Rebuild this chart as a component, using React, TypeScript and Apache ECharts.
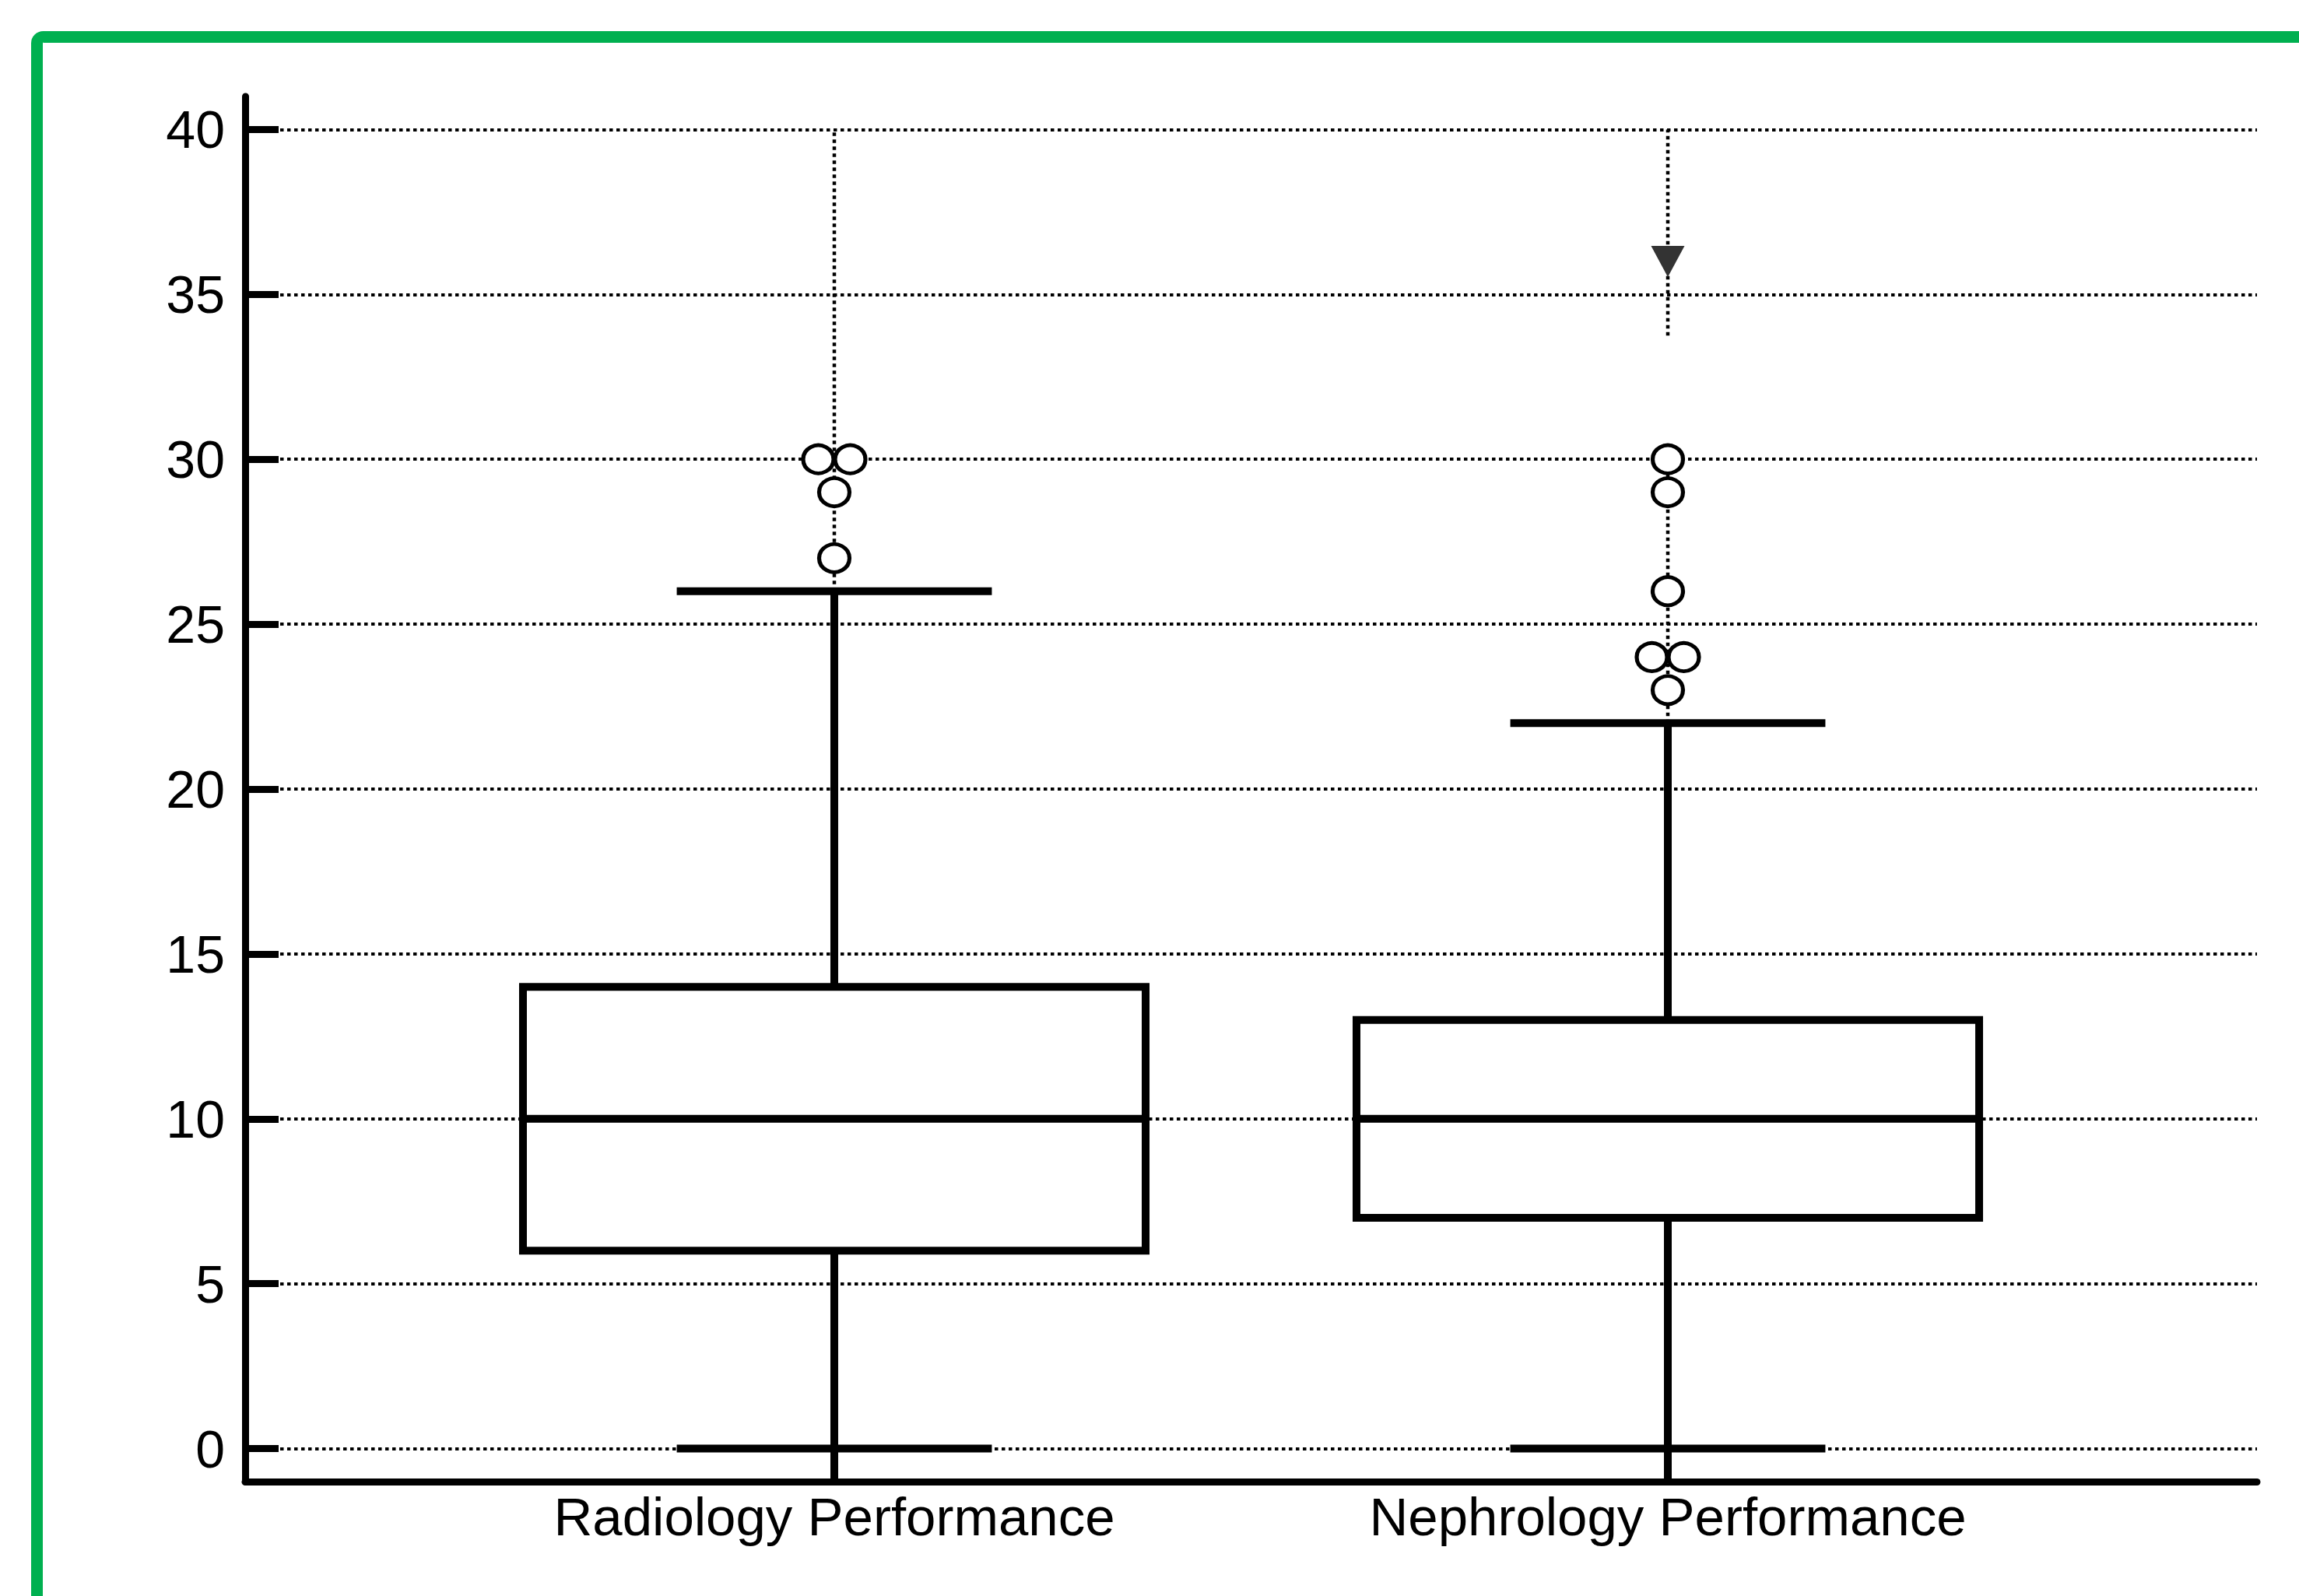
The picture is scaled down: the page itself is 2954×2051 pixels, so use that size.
import { useEffect, useRef } from "react";
import * as echarts from "echarts";

// ---- data ----
const categories = ["Radiology Performance", "Nephrology Performance"];
const whiskerLow = [0, 0];
const quartile1 = [6, 7];
const medians = [10, 10];
const quartile3 = [14, 13];
const whiskerHigh = [26, 22];
const radiologyOutliers = [30, 30, 29, 27];
const nephrologyOutliers = [30, 29, 26, 24, 24, 23];
const extremeMarkers = [null, 36]; // downward triangle marker
const radiologyDotted = [[26, 40]];
const nephrologyDotted = [[22, 30], [33.75, 40]];
const yTicks = [0, 5, 10, 15, 20, 25, 30, 35, 40];
const yMin = -1;
const yMax = 41;

// ---- layout constants ----
const X_MIN = 0.2932;
const X_MAX = 2.7068;
const BOX_HALF = 0.3735;
const CAP_HALF = 0.189;
const JITTER_PX = 41;

function buildOutlierItems(values: number[], x: number) {
  const counts: Record<string, number> = {};
  values.forEach((v) => (counts[v] = (counts[v] || 0) + 1));
  const seen: Record<string, number> = {};
  return values.map((v) => {
    const n = counts[v];
    const k = seen[v] || 0;
    seen[v] = k + 1;
    const dx = (k - (n - 1) / 2) * JITTER_PX;
    return { value: [x, v], symbolOffset: [dx, 0] };
  });
}

export default function App() {
  const ref = useRef<HTMLDivElement>(null);
  useEffect(() => {
    document.body.style.margin = "0";
    document.body.style.overflow = "hidden";
    if (!ref.current) return;
    const chart = echarts.init(ref.current, null, { renderer: "svg" });

    const boxData = categories.map((_, i) => [
      i + 1,
      whiskerLow[i],
      quartile1[i],
      medians[i],
      quartile3[i],
      whiskerHigh[i],
    ]);
    const dottedData: number[][] = [];
    radiologyDotted.forEach((s) => dottedData.push([1, s[0], s[1]]));
    nephrologyDotted.forEach((s) => dottedData.push([2, s[0], s[1]]));
    const outlierItems = [
      ...buildOutlierItems(radiologyOutliers, 1),
      ...buildOutlierItems(nephrologyOutliers, 2),
    ];
    const triangleData = extremeMarkers
      .map((v, i) => (v == null ? null : [i + 1, v]))
      .filter((d) => d != null);

    const black = "#000";
    const lw = 10;

    chart.setOption({
      animation: false,
      backgroundColor: "#fff",
      graphic: [
        {
          type: "rect",
          shape: { x: 47.5, y: 47.5, width: 3100, height: 2200, r: 8 },
          style: { fill: "none", stroke: "#00B050", lineWidth: 15 },
          z: 100,
        },
      ],
      grid: { left: 315, right: 54, top: 124, bottom: 147 },
      xAxis: {
        type: "value",
        min: X_MIN,
        max: X_MAX,
        axisLine: { onZero: false, lineStyle: { color: black, width: 9 } },
        axisTick: { show: false },
        splitLine: { show: false },
        axisLabel: {
          customValues: [1, 2],
          formatter: (v: number) => categories[Math.round(v) - 1] || "",
          fontSize: 69,
          color: black,
          fontFamily: "Liberation Sans",
          margin: 11,
        },
      },
      yAxis: {
        type: "value",
        min: yMin,
        max: yMax,
        axisLine: { show: true, onZero: false, lineStyle: { color: black, width: 9 } },
        axisTick: {
          show: true,
          inside: true,
          length: 43,
          customValues: yTicks,
          lineStyle: { color: black, width: 9 },
        },
        axisLabel: {
          customValues: yTicks,
          fontSize: 68,
          color: black,
          fontFamily: "Liberation Sans",
          margin: 26,
        },
        splitLine: {
          show: true,
          lineStyle: { color: black, width: 4, type: [4.5, 4.5] },
        },
      },
      series: [
        {
          type: "custom",
          name: "dotted",
          z: 2,
          encode: { x: 0, y: [1, 2] },
          data: dottedData,
          renderItem: (params: any, api: any) => {
            const x = api.value(0);
            const p1 = api.coord([x, api.value(1)]);
            const p2 = api.coord([x, api.value(2)]);
            return {
              type: "line",
              shape: { x1: p1[0], y1: p1[1], x2: p2[0], y2: p2[1] },
              style: { stroke: black, lineWidth: 4.5, lineDash: [4.5, 4.5] },
            };
          },
        },
        {
          type: "custom",
          name: "boxes",
          z: 3,
          encode: { x: 0, y: [1, 2, 3, 4, 5] },
          data: boxData,
          renderItem: (params: any, api: any) => {
            const x = api.value(0);
            const cx = api.coord([x, 0])[0];
            const yLo = api.coord([x, api.value(1)])[1];
            const yQ1 = api.coord([x, api.value(2)])[1];
            const yMed = api.coord([x, api.value(3)])[1];
            const yQ3 = api.coord([x, api.value(4)])[1];
            const yHi = api.coord([x, api.value(5)])[1];
            const yBottom = api.coord([x, yMin])[1];
            const half = api.size([BOX_HALF, 0])[0];
            const capHalf = api.size([CAP_HALF, 0])[0];
            const st = { stroke: black, lineWidth: lw, fill: "none" };
            return {
              type: "group",
              children: [
                { type: "line", shape: { x1: cx, y1: yQ1, x2: cx, y2: yBottom }, style: st },
                { type: "line", shape: { x1: cx, y1: yQ3, x2: cx, y2: yHi }, style: st },
                { type: "line", shape: { x1: cx - capHalf, y1: yLo, x2: cx + capHalf, y2: yLo }, style: st },
                { type: "line", shape: { x1: cx - capHalf, y1: yHi, x2: cx + capHalf, y2: yHi }, style: st },
                {
                  type: "rect",
                  shape: { x: cx - half, y: yQ3, width: 2 * half, height: yQ1 - yQ3 },
                  style: { fill: "#fff", stroke: black, lineWidth: lw },
                },
                { type: "line", shape: { x1: cx - half, y1: yMed, x2: cx + half, y2: yMed }, style: st },
              ],
            };
          },
        },
        {
          type: "scatter",
          name: "outliers",
          z: 4,
          symbol: "circle",
          symbolSize: [39, 36],
          itemStyle: { color: "#fff", borderColor: black, borderWidth: 5, opacity: 1 },
          data: outlierItems,
        },
        {
          type: "scatter",
          name: "extreme",
          z: 5,
          symbol: "triangle",
          symbolRotate: 180,
          symbolSize: [43, 40],
          itemStyle: { color: "#333", opacity: 1 },
          data: triangleData,
        },
      ],
    });
    return () => chart.dispose();
  }, []);
  return <div ref={ref} style={{ width: 2954, height: 2051 }} />;
}
